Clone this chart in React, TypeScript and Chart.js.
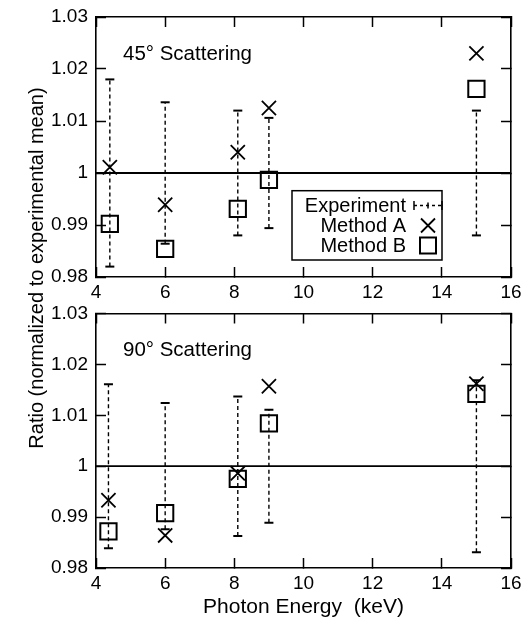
import React, { useEffect, useRef } from 'react';
import { Chart, registerables } from 'chart.js';

Chart.register(...registerables);

const FONT = "'Liberation Sans', Arial, Helvetica, sans-serif";

// axis ticks
const xTickValues = [4, 6, 8, 10, 12, 14, 16];
const yTickValues = [0.98, 0.99, 1, 1.01, 1.02, 1.03];
const experimentalMean = 1;

// 45 degree scattering
const energy45 = [4.4, 6, 8.1, 9, 15];
const expError45 = [0.018, 0.0136, 0.012, 0.0106, 0.012];
const methodA45 = [1.0011, 0.9939, 1.004, 1.0125, 1.023];
const methodB45 = [0.9902, 0.9854, 0.9931, 0.9987, 1.0162];

// 90 degree scattering
const energy90 = [4.36, 6, 8.1, 9, 15];
const expError90 = [0.0161, 0.0124, 0.0137, 0.0111, 0.0169];
const methodA90 = [0.9933, 0.9864, 0.9986, 1.0157, 1.0162];
const methodB90 = [0.9872, 0.9908, 0.9975, 1.0084, 1.0142];

const seriesLabels = ['Experiment', 'Method A', 'Method B'];
const panelTitles = ['45\u00b0 Scattering', '90\u00b0 Scattering'];
const xTitle = 'Photon Energy  (keV)';
const yTitle = 'Ratio (normalized to experimental mean)';

const decorPlugin = {
  id: 'decor',
  afterDraw(chart: any, _args: any, opts: any) {
    const { ctx, chartArea } = chart;
    ctx.save();
    ctx.fillStyle = '#000';
    ctx.font = `20.5px ${FONT}`;
    ctx.textBaseline = 'alphabetic';
    ctx.textAlign = 'left';
    ctx.fillText(opts.title, chartArea.left + 27, chartArea.top + 42.5);
    if (opts.legend) {
      const x0 = chartArea.left + 196;
      const y0 = chartArea.top + 173.7;
      const w = 150;
      const h = 69.3;
      ctx.fillStyle = '#fff';
      ctx.fillRect(x0, y0, w, h);
      ctx.strokeStyle = '#000';
      ctx.lineWidth = 1.5;
      ctx.strokeRect(x0, y0, w, h);
      ctx.fillStyle = '#000';
      ctx.font = `20px ${FONT}`;
      ctx.textAlign = 'right';
      ctx.textBaseline = 'middle';
      const rows = [14.8, 34.8, 54.8];
      const labels = chart.data.datasets
        .filter((d: any) => d.legendRow !== undefined)
        .sort((a: any, b: any) => a.legendRow - b.legendRow);
      labels.forEach((d: any, i: number) => {
        ctx.fillText(d.label, x0 + 114, y0 + rows[i] + 1);
      });
      const sx = x0 + 136;
      // experiment sample: dashed horizontal error bar
      let y = y0 + rows[0];
      ctx.lineWidth = 1.5;
      ctx.setLineDash([3, 3]);
      ctx.beginPath();
      ctx.moveTo(sx - 14, y);
      ctx.lineTo(sx + 14, y);
      ctx.stroke();
      ctx.setLineDash([]);
      ctx.beginPath();
      ctx.moveTo(sx - 14, y - 4.5);
      ctx.lineTo(sx - 14, y + 4.5);
      ctx.moveTo(sx + 14, y - 4.5);
      ctx.lineTo(sx + 14, y + 4.5);
      ctx.moveTo(sx, y - 3);
      ctx.lineTo(sx, y + 3);
      ctx.stroke();
      // method A cross
      y = y0 + rows[1];
      ctx.lineWidth = 1.8;
      ctx.beginPath();
      ctx.moveTo(sx - 7, y - 7);
      ctx.lineTo(sx + 7, y + 7);
      ctx.moveTo(sx + 7, y - 7);
      ctx.lineTo(sx - 7, y + 7);
      ctx.stroke();
      // method B square
      y = y0 + rows[2];
      ctx.lineWidth = 2;
      ctx.strokeRect(sx - 8, y - 8, 16, 16);
    }
    ctx.restore();
  },
};

function fixedTicks(values: number[]) {
  return (scale: any) => {
    scale.ticks = values.map((v) => ({ value: v }));
  };
}

function fmt(v: number) {
  return String(parseFloat(Number(v).toFixed(4)));
}

function fitTo(size: number, horizontal: boolean) {
  return (s: any) => {
    if (horizontal) s.height = size;
    else s.width = size;
    s.paddingTop = 0;
    s.paddingBottom = 0;
    s.paddingLeft = 0;
    s.paddingRight = 0;
  };
}

function buildConfig(
  idx: number,
  energy: number[],
  err: number[],
  a: number[],
  b: number[],
  showXTitle: boolean,
  padTop: number,
  xAxisHeight: number,
) {
  const errData: any[] = [];
  energy.forEach((e, i) => {
    errData.push({ x: e, y: experimentalMean - err[i] });
    errData.push({ x: e, y: experimentalMean + err[i] });
    errData.push({ x: e, y: null });
  });
  const gridInward = {
    drawOnChartArea: false,
    drawTicks: true,
    tickLength: -10,
    tickWidth: 1.5,
    tickColor: '#000',
  };
  const border = { display: true, color: '#000', width: 1.6 };
  return {
    type: 'scatter',
    data: {
      datasets: [
        {
          label: seriesLabels[1],
          legendRow: 1,
          data: energy.map((e, i) => ({ x: e, y: a[i] })),
          pointStyle: 'crossRot',
          pointRadius: 10,
          pointHoverRadius: 10,
          pointBorderWidth: 1.8,
          borderColor: '#000',
          backgroundColor: 'transparent',
          showLine: false,
          order: 0,
        },
        {
          label: seriesLabels[2],
          legendRow: 2,
          data: energy.map((e, i) => ({ x: e, y: b[i] })),
          pointStyle: 'rect',
          pointRadius: 11.5,
          pointHoverRadius: 11.5,
          pointBorderWidth: 2,
          borderColor: '#000',
          backgroundColor: 'transparent',
          showLine: false,
          order: 1,
        },
        {
          label: seriesLabels[0],
          legendRow: 0,
          data: errData,
          showLine: true,
          spanGaps: false,
          borderColor: '#000',
          borderWidth: 1.4,
          borderDash: [4, 3],
          pointStyle: 'line',
          pointRadius: 4.5,
          pointHoverRadius: 4.5,
          pointBorderWidth: 2,
          pointBorderColor: '#000',
          backgroundColor: 'transparent',
          order: 2,
        },
        {
          label: 'mean',
          data: [
            { x: xTickValues[0], y: experimentalMean },
            { x: xTickValues[xTickValues.length - 1], y: experimentalMean },
          ],
          showLine: true,
          borderColor: '#000',
          borderWidth: 1.8,
          pointRadius: 0,
          order: 3,
        },
      ],
    },
    options: {
      animation: false,
      responsive: false,
      events: [],
      layout: { padding: { left: 0, right: 19, top: padTop, bottom: 0 } },
      plugins: {
        legend: { display: false },
        tooltip: { enabled: false },
        decor: { title: panelTitles[idx], legend: idx === 0 },
      },
      scales: {
        x: {
          type: 'linear',
          position: 'bottom',
          min: 4,
          max: 16,
          afterBuildTicks: fixedTicks(xTickValues),
          ticks: {
            color: '#000',
            font: { family: FONT, size: 19 },
            padding: 14,
            maxRotation: 0,
            autoSkip: false,
            callback: (v: any) => fmt(v),
          },
          grid: gridInward,
          border,
          title: {
            display: showXTitle,
            text: xTitle,
            color: '#000',
            font: { family: FONT, size: 21, lineHeight: 1.2 },
            padding: { top: 0, bottom: 0 },
          },
          afterFit: fitTo(xAxisHeight, true),
        },
        x2: {
          type: 'linear',
          position: 'top',
          axis: 'x',
          min: 4,
          max: 16,
          afterBuildTicks: fixedTicks(xTickValues),
          ticks: { display: false },
          grid: gridInward,
          border,
          afterFit: fitTo(0, true),
        },
        y: {
          type: 'linear',
          position: 'left',
          min: 0.98,
          max: 1.03,
          afterBuildTicks: fixedTicks(yTickValues),
          ticks: {
            color: '#000',
            font: { family: FONT, size: 19 },
            padding: 18,
            autoSkip: false,
            callback: (v: any) => fmt(v),
          },
          grid: gridInward,
          border,
          afterFit: fitTo(96, false),
        },
        y2: {
          type: 'linear',
          position: 'right',
          axis: 'y',
          min: 0.98,
          max: 1.03,
          afterBuildTicks: fixedTicks(yTickValues),
          ticks: { display: false },
          grid: gridInward,
          border,
          afterFit: fitTo(0, false),
        },
      },
    },
    plugins: [decorPlugin],
  };
}

export default function App() {
  const topRef = useRef<HTMLCanvasElement | null>(null);
  const botRef = useRef<HTMLCanvasElement | null>(null);

  useEffect(() => {
    const c1 = new Chart(
      topRef.current as HTMLCanvasElement,
      buildConfig(0, energy45, expError45, methodA45, methodB45, false, 17, 23) as any,
    );
    const c2 = new Chart(
      botRef.current as HTMLCanvasElement,
      buildConfig(1, energy90, expError90, methodA90, methodB90, true, 12, 52) as any,
    );
    return () => {
      c1.destroy();
      c2.destroy();
    };
  }, []);

  return (
    <div
      style={{
        position: 'absolute',
        left: 0,
        top: 0,
        width: 530,
        height: 620,
        background: '#fff',
        overflow: 'hidden',
      }}
    >
      <canvas
        ref={topRef}
        width={530}
        height={300}
        style={{ position: 'absolute', left: 0, top: 0, width: 530, height: 300, display: 'block' }}
      />
      <canvas
        ref={botRef}
        width={530}
        height={320}
        style={{ position: 'absolute', left: 0, top: 300, width: 530, height: 320, display: 'block' }}
      />
      <div
        style={{
          position: 'absolute',
          left: 36 - 220,
          top: 268 - 12,
          width: 440,
          height: 24,
          lineHeight: '24px',
          textAlign: 'center',
          fontFamily: FONT,
          fontSize: 20,
          color: '#000',
          whiteSpace: 'nowrap',
          transform: 'rotate(-90deg)',
          transformOrigin: '50% 50%',
        }}
      >
        {yTitle}
      </div>
    </div>
  );
}
